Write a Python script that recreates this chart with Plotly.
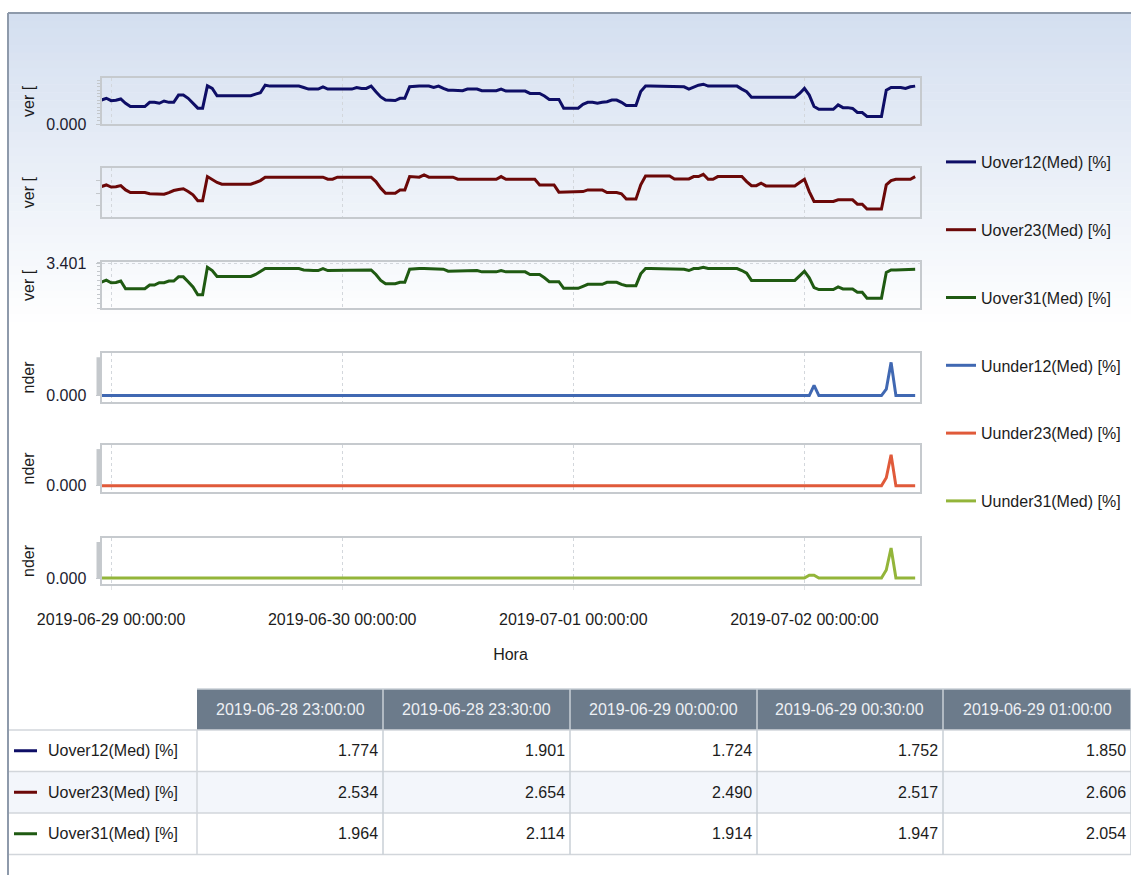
import pandas as pd
import plotly.graph_objects as go
from plotly.subplots import make_subplots

W, H = 1131, 875
FONT = "Liberation Sans, Arial, sans-serif"

# ---------------- data (30-minute samples) ----------------
start_time = "2019-06-28 23:00"
n_points = 170
times = pd.date_range(start_time, periods=n_points, freq="30min")

uover12 = [
    1.774, 1.901, 1.724, 1.752, 1.850, 1.53, 1.29, 1.29, 1.29, 1.29,
    1.60, 1.60, 1.53, 1.70, 1.60, 1.60, 2.14, 2.14, 1.90, 1.53,
    1.17, 1.17, 2.82, 2.63, 2.09, 2.09, 2.09, 2.09, 2.09, 2.09,
    2.09, 2.09, 2.21, 2.31, 2.87, 2.80, 2.80, 2.80, 2.80, 2.80,
    2.80, 2.80, 2.70, 2.58, 2.58, 2.58, 2.75, 2.58, 2.58, 2.58,
    2.58, 2.58, 2.58, 2.70, 2.63, 2.63, 2.80, 2.38, 2.00, 1.77,
    1.73, 1.73, 1.90, 1.90, 2.75, 2.80, 2.80, 2.80, 2.80, 2.70,
    2.80, 2.63, 2.50, 2.50, 2.50, 2.46, 2.58, 2.58, 2.58, 2.46,
    2.46, 2.46, 2.46, 2.58, 2.43, 2.43, 2.43, 2.43, 2.43, 2.26,
    2.26, 2.26, 2.07, 1.82, 1.82, 1.82, 1.17, 1.17, 1.17, 1.17,
    1.46, 1.60, 1.60, 1.53, 1.60, 1.65, 1.77, 1.77, 1.60, 1.36,
    1.36, 1.36, 2.40, 2.80, 2.80, 2.80, 2.80, 2.80, 2.75, 2.75,
    2.75, 2.75, 2.58, 2.75, 2.87, 2.94, 2.80, 2.80, 2.80, 2.80,
    2.80, 2.80, 2.80, 2.58, 2.38, 1.97, 1.97, 1.97, 1.97, 1.97,
    1.97, 1.97, 1.97, 1.97, 1.97, 2.26, 2.63, 2.14, 1.29, 1.09,
    1.09, 1.09, 1.09, 1.41, 1.21, 1.21, 1.15, 0.85, 0.85, 0.56,
    0.56, 0.56, 0.56, 2.50, 2.70, 2.70, 2.70, 2.63, 2.75, 2.80,
]

uover23 = [
    2.534, 2.654, 2.490, 2.517, 2.606, 2.26, 2.05, 2.05, 2.05, 2.05,
    1.95, 1.95, 1.95, 1.92, 2.05, 2.21, 2.30, 2.35, 2.13, 1.87,
    1.40, 1.40, 3.32, 3.05, 2.85, 2.71, 2.71, 2.71, 2.71, 2.71,
    2.71, 2.71, 2.85, 3.00, 3.27, 3.27, 3.27, 3.27, 3.27, 3.27,
    3.27, 3.27, 3.27, 3.27, 3.27, 3.27, 3.27, 3.11, 3.11, 3.27,
    3.27, 3.27, 3.27, 3.27, 3.27, 3.27, 3.27, 2.92, 2.40, 2.00,
    2.00, 2.00, 2.26, 2.26, 3.32, 3.27, 3.27, 3.45, 3.27, 3.27,
    3.27, 3.27, 3.27, 3.27, 3.11, 3.11, 3.11, 3.11, 3.11, 3.11,
    3.11, 3.11, 3.11, 3.32, 3.11, 3.11, 3.11, 3.11, 3.11, 3.11,
    3.11, 2.66, 2.66, 2.66, 2.66, 2.08, 2.08, 2.08, 2.08, 2.08,
    2.13, 2.26, 2.26, 2.26, 2.26, 2.05, 2.05, 2.05, 1.95, 1.53,
    1.53, 1.53, 2.66, 3.37, 3.37, 3.37, 3.37, 3.37, 3.37, 3.13,
    3.13, 3.13, 3.13, 3.32, 3.32, 3.50, 3.11, 3.11, 3.32, 3.32,
    3.32, 3.32, 3.32, 3.32, 2.92, 2.60, 2.60, 2.79, 2.58, 2.58,
    2.58, 2.58, 2.58, 2.58, 2.58, 2.85, 3.11, 2.13, 1.34, 1.34,
    1.34, 1.34, 1.34, 1.47, 1.47, 1.47, 1.47, 1.13, 1.13, 0.74,
    0.74, 0.74, 0.74, 2.66, 3.00, 3.11, 3.11, 3.11, 3.11, 3.32,
]

uover31 = [
    1.964, 2.114, 1.914, 1.947, 2.054, 1.47, 1.47, 1.47, 1.47, 1.47,
    1.75, 1.75, 1.93, 1.93, 2.05, 2.05, 2.37, 2.37, 2.00, 1.60,
    1.00, 1.00, 3.10, 2.85, 2.40, 2.40, 2.40, 2.40, 2.40, 2.40,
    2.40, 2.40, 2.55, 2.75, 3.00, 3.00, 3.00, 3.00, 3.00, 3.00,
    3.00, 3.00, 2.90, 2.85, 2.85, 2.85, 3.00, 2.85, 2.85, 2.85,
    2.85, 2.85, 2.85, 2.90, 2.90, 2.90, 2.90, 2.55, 2.10, 1.85,
    1.85, 1.85, 1.95, 1.95, 2.95, 3.00, 3.00, 3.00, 3.00, 2.95,
    2.95, 2.95, 2.80, 2.80, 2.80, 2.85, 2.85, 2.85, 2.85, 2.75,
    2.75, 2.75, 2.75, 2.85, 2.75, 2.75, 2.75, 2.75, 2.75, 2.55,
    2.55, 2.55, 2.30, 2.00, 2.00, 2.00, 1.50, 1.50, 1.50, 1.50,
    1.65, 1.80, 1.80, 1.80, 1.80, 1.95, 1.95, 1.95, 1.80, 1.70,
    1.70, 1.70, 2.60, 3.00, 3.00, 3.00, 3.00, 3.00, 3.00, 2.95,
    2.95, 2.95, 2.85, 3.00, 3.00, 3.10, 3.00, 3.00, 3.00, 3.00,
    3.00, 3.00, 3.00, 2.85, 2.65, 2.10, 2.10, 2.10, 2.10, 2.10,
    2.10, 2.10, 2.10, 2.10, 2.10, 2.45, 2.80, 2.30, 1.55, 1.40,
    1.40, 1.40, 1.40, 1.60, 1.45, 1.45, 1.45, 1.20, 1.20, 0.75,
    0.75, 0.75, 0.75, 2.70, 2.90, 2.90, 2.90, 2.95, 2.95, 2.95,
]

uunder12 = [
    0, 0, 0, 0, 0, 0, 0, 0, 0, 0,
    0, 0, 0, 0, 0, 0, 0, 0, 0, 0,
    0, 0, 0, 0, 0, 0, 0, 0, 0, 0,
    0, 0, 0, 0, 0, 0, 0, 0, 0, 0,
    0, 0, 0, 0, 0, 0, 0, 0, 0, 0,
    0, 0, 0, 0, 0, 0, 0, 0, 0, 0,
    0, 0, 0, 0, 0, 0, 0, 0, 0, 0,
    0, 0, 0, 0, 0, 0, 0, 0, 0, 0,
    0, 0, 0, 0, 0, 0, 0, 0, 0, 0,
    0, 0, 0, 0, 0, 0, 0, 0, 0, 0,
    0, 0, 0, 0, 0, 0, 0, 0, 0, 0,
    0, 0, 0, 0, 0, 0, 0, 0, 0, 0,
    0, 0, 0, 0, 0, 0, 0, 0, 0, 0,
    0, 0, 0, 0, 0, 0, 0, 0, 0, 0,
    0, 0, 0, 0, 0, 0, 0, 0, 0.24, 0,
    0, 0, 0, 0, 0, 0, 0, 0, 0, 0,
    0, 0, 0, 0.15, 0.78, 0, 0, 0, 0, 0,
]

uunder23 = [
    0, 0, 0, 0, 0, 0, 0, 0, 0, 0,
    0, 0, 0, 0, 0, 0, 0, 0, 0, 0,
    0, 0, 0, 0, 0, 0, 0, 0, 0, 0,
    0, 0, 0, 0, 0, 0, 0, 0, 0, 0,
    0, 0, 0, 0, 0, 0, 0, 0, 0, 0,
    0, 0, 0, 0, 0, 0, 0, 0, 0, 0,
    0, 0, 0, 0, 0, 0, 0, 0, 0, 0,
    0, 0, 0, 0, 0, 0, 0, 0, 0, 0,
    0, 0, 0, 0, 0, 0, 0, 0, 0, 0,
    0, 0, 0, 0, 0, 0, 0, 0, 0, 0,
    0, 0, 0, 0, 0, 0, 0, 0, 0, 0,
    0, 0, 0, 0, 0, 0, 0, 0, 0, 0,
    0, 0, 0, 0, 0, 0, 0, 0, 0, 0,
    0, 0, 0, 0, 0, 0, 0, 0, 0, 0,
    0, 0, 0, 0, 0, 0, 0, 0, 0, 0,
    0, 0, 0, 0, 0, 0, 0, 0, 0, 0,
    0, 0, 0, 0.20, 0.76, 0, 0, 0, 0, 0,
]

uunder31 = [
    0, 0, 0, 0, 0, 0, 0, 0, 0, 0,
    0, 0, 0, 0, 0, 0, 0, 0, 0, 0,
    0, 0, 0, 0, 0, 0, 0, 0, 0, 0,
    0, 0, 0, 0, 0, 0, 0, 0, 0, 0,
    0, 0, 0, 0, 0, 0, 0, 0, 0, 0,
    0, 0, 0, 0, 0, 0, 0, 0, 0, 0,
    0, 0, 0, 0, 0, 0, 0, 0, 0, 0,
    0, 0, 0, 0, 0, 0, 0, 0, 0, 0,
    0, 0, 0, 0, 0, 0, 0, 0, 0, 0,
    0, 0, 0, 0, 0, 0, 0, 0, 0, 0,
    0, 0, 0, 0, 0, 0, 0, 0, 0, 0,
    0, 0, 0, 0, 0, 0, 0, 0, 0, 0,
    0, 0, 0, 0, 0, 0, 0, 0, 0, 0,
    0, 0, 0, 0, 0, 0, 0, 0, 0, 0,
    0, 0, 0, 0, 0, 0, 0, 0.07, 0.07, 0,
    0, 0, 0, 0, 0, 0, 0, 0, 0, 0,
    0, 0, 0, 0.20, 0.75, 0, 0, 0, 0, 0,
]

series_names = ["Uover12(Med) [%]", "Uover23(Med) [%]", "Uover31(Med) [%]",
                "Uunder12(Med) [%]", "Uunder23(Med) [%]", "Uunder31(Med) [%]"]
series_values = [uover12, uover23, uover31, uunder12, uunder23, uunder31]
series_colors = ["#0e0e66", "#6b0808", "#1f5a12", "#4068b2", "#e05a3a", "#93b53a"]
axis_titles = ["ver [", "ver [", "ver [", "nder", "nder", "nder"]

table_columns = 5
table_times = [t.strftime("%Y-%m-%d %H:%M:%S") for t in times[:table_columns]]

# ---------------- layout geometry (pixels) ----------------
def fx(px):
    return px / W

def fy(py):
    return 1 - py / H

panel_px = [(78, 124), (168, 216.5), (262, 308), (353, 402), (445, 492), (538, 584)]
y_ranges = [[0, 3.4], [0.15, 4.0], [0, 3.5], [-0.15, 1.0], [-0.15, 1.0], [-0.15, 1.0]]

fig = make_subplots(rows=6, cols=1, shared_xaxes=True, vertical_spacing=0.02)

for k in range(6):
    fig.add_trace(go.Scatter(
        x=times, y=series_values[k], mode="lines", name=series_names[k],
        legendgroup=series_names[k],
        line=dict(color=series_colors[k], width=3),
        hoverinfo="x+y+name",
    ), row=k + 1, col=1)

x_end = "2019-07-02 11:57"
grid = "#d3d7dc"
border = "#c6cace"
TXT = "#1c1c1c"
for k in range(6):
    top, bot = panel_px[k]
    xa = "xaxis" if k == 0 else f"xaxis{k+1}"
    ya = "yaxis" if k == 0 else f"yaxis{k+1}"
    fig.layout[xa].update(
        domain=[fx(101.5), fx(919.5)],
        range=[times[0], x_end],
        showgrid=True, gridcolor=grid, griddash="dot", gridwidth=1,
        tick0="2019-06-29", dtick=86400000,
        showline=True, mirror=True, linecolor=border, linewidth=2,
        ticks="", zeroline=False, automargin=False,
        showticklabels=(k == 5),
    )
    fig.layout[ya].update(
        domain=[fy(bot), fy(top)],
        range=y_ranges[k],
        showline=True, mirror=True, linecolor=border, linewidth=2,
        zeroline=False, showgrid=False, automargin=False,
        tickfont=dict(family=FONT, size=16, color="#1c1c30"),
        ticks="outside", ticklen=4, tickcolor="#c4c8cc",
        ticklabelstandoff=6,
    )

# per-panel y tick styling
fig.layout.yaxis.update(tickmode="array", tickvals=[0], ticktext=["0.000"],
                        minor=dict(ticks="outside", ticklen=3, tickcolor="#c4c8cc", dtick=0.25, tick0=0))
fig.layout.yaxis2.update(tickmode="array", tickvals=[1, 2, 3], ticktext=["", "", ""])
fig.layout.yaxis3.update(tickmode="array", tickvals=[3.401], ticktext=["3.401"],
                         showgrid=True, gridcolor=grid, griddash="dot",
                         minor=dict(ticks="outside", ticklen=3, tickcolor="#c4c8cc", dtick=0.35, tick0=0))
for ya in ["yaxis4", "yaxis5", "yaxis6"]:
    fig.layout[ya].update(tickmode="array", tickvals=[0], ticktext=["0.000"])

fig.layout.xaxis6.update(
    tickformat="%Y-%m-%d %H:%M:%S",
    tickfont=dict(family=FONT, size=16, color=TXT),
    ticks="outside", ticklen=4, tickcolor="#e2e4e6",
    ticklabelstandoff=16,
    title=dict(text="Hora", font=dict(family=FONT, size=16, color=TXT), standoff=22),
)

# ---------------- background, frame and decorations ----------------
shapes = []
n_bands = 40
g_top, g_bot = 13, 330
c0 = (212, 223, 240)
for b in range(n_bands):
    y0 = g_top + (g_bot - g_top) * b / n_bands
    y1 = g_top + (g_bot - g_top) * (b + 1) / n_bands + 0.5
    t = b / (n_bands - 1)
    col = tuple(round(c0[i] + (255 - c0[i]) * t) for i in range(3))
    shapes.append(dict(type="rect", xref="paper", yref="paper", x0=fx(8), x1=1,
                       y0=fy(y1), y1=fy(y0), fillcolor=f"rgb{col}", line=dict(width=0),
                       layer="below"))
# gray bars on the left edge of the "under" panels
for k in (4, 5, 6):
    shapes.append(dict(type="line", xref="paper", yref=f"y{k}", x0=fx(98.5), x1=fx(98.5),
                       y0=0, y1=0.9, line=dict(color="#c4c8cc", width=4)))

annotations = []
for k in range(6):
    top, bot = panel_px[k]
    annotations.append(dict(text=axis_titles[k], xref="paper", yref="paper",
                            x=fx(28), y=fy((top + bot) / 2), textangle=-90,
                            showarrow=False, xanchor="center", yanchor="middle",
                            font=dict(family=FONT, size=16, color=TXT)))

# ---------------- data table (drawn from the series values) ----------------
col_w = [189, 186, 187, 187, 186, 188]
table_left, table_top = 8, 689
header_h, row_h = 41, 41.5
header_fill = "#6c7b8b"
row_fill = ["white", "#f3f6fb", "white"]
cell_line = "#d2d6db"

col_edges = [table_left]
for w in col_w:
    col_edges.append(col_edges[-1] + w)
row_edges = [table_top + header_h + row_h * r for r in range(4)]

# fills
for j in range(1, len(col_w)):
    shapes.append(dict(type="rect", xref="paper", yref="paper",
                       x0=fx(col_edges[j]), x1=fx(col_edges[j + 1]),
                       y0=fy(row_edges[0]), y1=fy(table_top),
                       fillcolor=header_fill, line=dict(width=0)))
for r in range(3):
    shapes.append(dict(type="rect", xref="paper", yref="paper",
                       x0=fx(table_left), x1=1, y0=fy(row_edges[r + 1]), y1=fy(row_edges[r]),
                       fillcolor=row_fill[r], line=dict(width=0)))
# grid lines
shapes.append(dict(type="line", xref="paper", yref="paper", x0=fx(col_edges[1]), x1=1,
                   y0=fy(table_top), y1=fy(table_top), line=dict(color="#c9cfd6", width=1.5)))
for r in range(4):
    shapes.append(dict(type="line", xref="paper", yref="paper", x0=fx(table_left), x1=1,
                       y0=fy(row_edges[r]), y1=fy(row_edges[r]), line=dict(color=cell_line, width=1.5)))
for j in range(1, len(col_edges)):
    shapes.append(dict(type="line", xref="paper", yref="paper",
                       x0=fx(col_edges[j]), x1=fx(col_edges[j]),
                       y0=fy(row_edges[3]), y1=fy(table_top if j > 1 else row_edges[0]),
                       line=dict(color="#c9cfd6" if j > 1 else cell_line, width=1.5)))
# coloured line markers in the label column
for k in range(3):
    yc = (row_edges[k] + row_edges[k + 1]) / 2
    shapes.append(dict(type="line", xref="paper", yref="paper", x0=fx(14), x1=fx(37),
                       y0=fy(yc), y1=fy(yc), line=dict(color=series_colors[k], width=3)))
# texts
for j in range(table_columns):
    xc = (col_edges[j + 1] + col_edges[j + 2]) / 2
    annotations.append(dict(text=table_times[j], xref="paper", yref="paper",
                            x=fx(xc), y=fy(table_top + header_h / 2), showarrow=False,
                            xanchor="center", yanchor="middle",
                            font=dict(family=FONT, size=16, color="#edf0f4")))
for k in range(3):
    yc = (row_edges[k] + row_edges[k + 1]) / 2
    annotations.append(dict(text=series_names[k], xref="paper", yref="paper",
                            x=fx(46), y=fy(yc), showarrow=False,
                            xanchor="left", yanchor="middle",
                            font=dict(family=FONT, size=16, color=TXT)))
    for j in range(table_columns):
        annotations.append(dict(text=f"{series_values[k][j]:.3f}", xref="paper", yref="paper",
                                x=fx(col_edges[j + 2] - 3), y=fy(yc), showarrow=False,
                                xanchor="right", yanchor="middle",
                                font=dict(family=FONT, size=16, color=TXT)))

# outer frame
shapes.append(dict(type="line", xref="paper", yref="paper", x0=fx(8), x1=fx(8), y0=0, y1=fy(13),
                   line=dict(color="#8e9aab", width=2)))
shapes.append(dict(type="line", xref="paper", yref="paper", x0=fx(8), x1=1, y0=fy(13), y1=fy(13),
                   line=dict(color="#8e9aab", width=2)))

fig.update_layout(
    width=W, height=H,
    margin=dict(l=0, r=0, t=0, b=0, autoexpand=False),
    paper_bgcolor="white",
    plot_bgcolor="rgba(0,0,0,0)",
    shapes=shapes,
    annotations=annotations,
    showlegend=True,
    legend=dict(
        x=fx(941), y=fy(145), xanchor="left", yanchor="top",
        font=dict(family=FONT, size=16, color=TXT),
        tracegroupgap=44, bgcolor="rgba(0,0,0,0)",
        itemwidth=30,
    ),
    font=dict(family=FONT),
)

fig.write_html("out.html", config={"displayModeBar": False},
               post_script="document.body.style.margin='0';")
